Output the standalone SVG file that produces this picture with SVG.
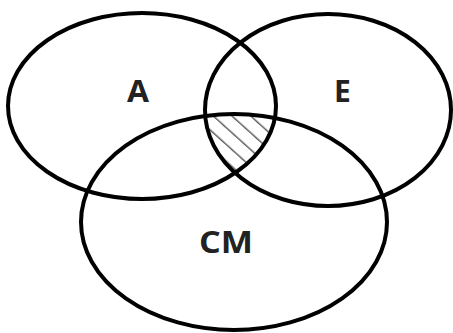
<svg xmlns="http://www.w3.org/2000/svg" width="453" height="333" viewBox="0 0 453 333">
<style>
.set{fill:none;stroke:#000;stroke-width:4}
.lbl{font-family:"Open Sans","Liberation Sans",sans-serif;font-weight:bold;font-size:30px;fill:#222;text-anchor:middle}
.hatch{stroke:#555;stroke-width:1.4}
</style>
<defs>
<pattern id="hp" patternUnits="userSpaceOnUse" width="12.5" height="12.5" patternTransform="rotate(42)">
<line class="hatch" x1="0" y1="6" x2="12.5" y2="6"/>
</pattern>
<clipPath id="cA"><ellipse cx="142" cy="106" rx="134" ry="93"/></clipPath>
<clipPath id="cE"><ellipse cx="328" cy="110" rx="123" ry="96"/></clipPath>
<clipPath id="cC"><ellipse cx="234" cy="222" rx="153" ry="108"/></clipPath>
</defs>
<g id="hatching" clip-path="url(#cA)">
<g clip-path="url(#cE)">
<rect x="0" y="0" width="453" height="333" fill="url(#hp)" clip-path="url(#cC)"/>
</g>
</g>
<g id="set-A"><ellipse class="set" cx="142" cy="106" rx="134" ry="93"/><text class="lbl" x="138" y="102" textLength="22" lengthAdjust="spacingAndGlyphs">A</text></g>
<g id="set-E"><ellipse class="set" cx="328" cy="110" rx="123" ry="96"/><text class="lbl" x="342.5" y="102">E</text></g>
<g id="set-CM"><ellipse class="set" cx="234" cy="222" rx="153" ry="108"/><text class="lbl" x="226" y="253" textLength="54" lengthAdjust="spacingAndGlyphs">CM</text></g>
<g id="connectors"/>
</svg>
